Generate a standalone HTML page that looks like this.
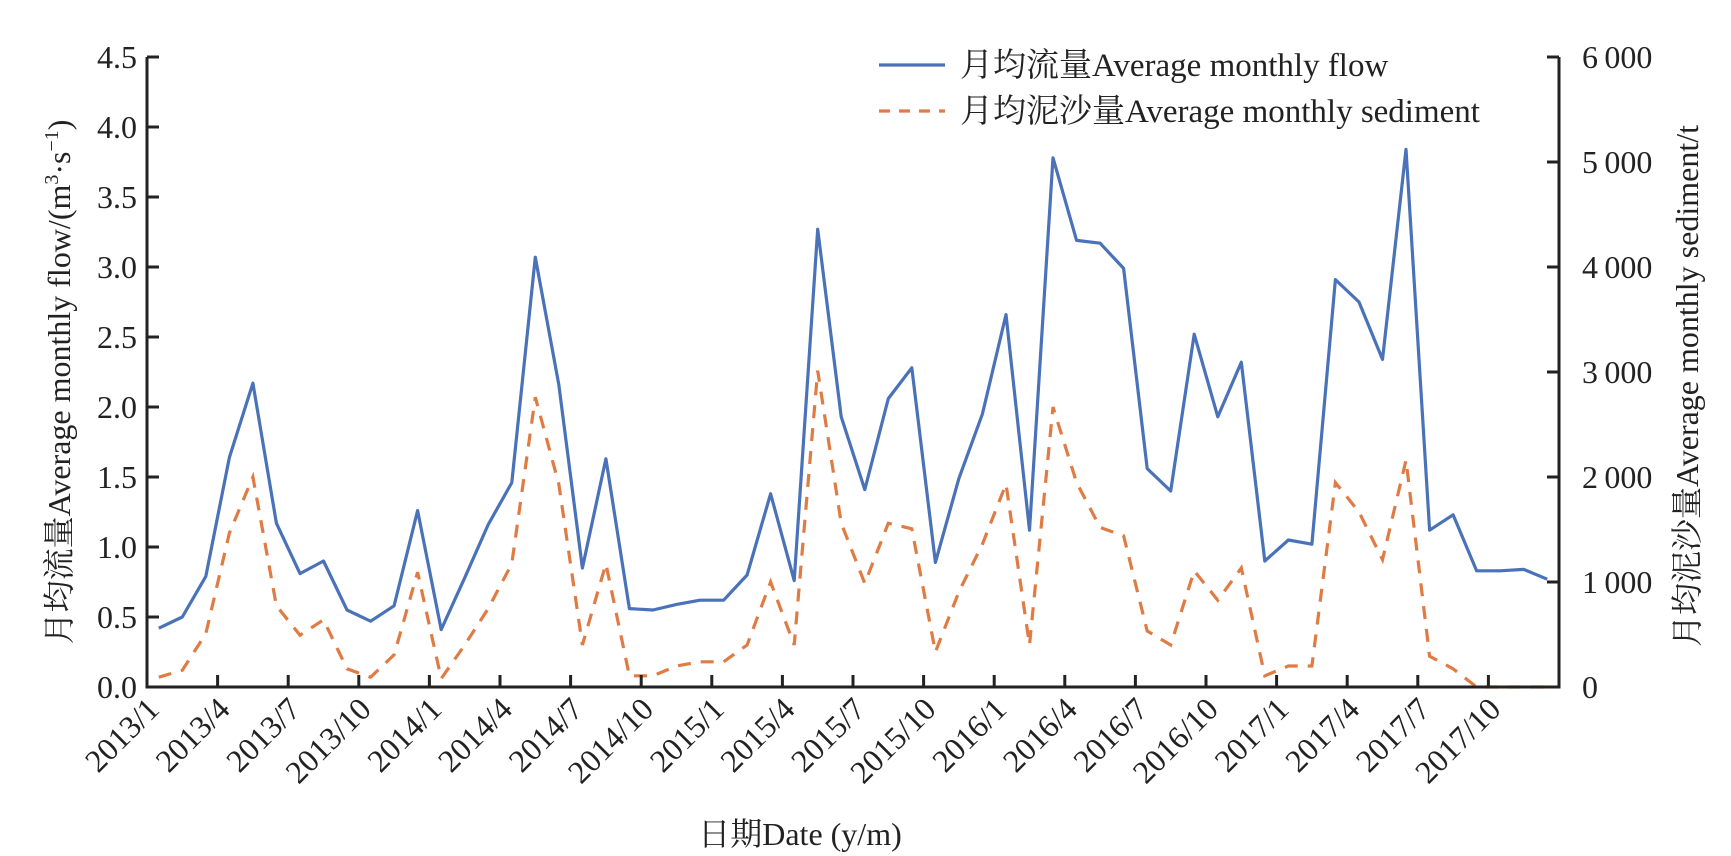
<!DOCTYPE html>
<html><head><meta charset="utf-8"><style>
html,body{margin:0;padding:0;background:#fff;}
svg{display:block;font-family:"Liberation Serif","Noto Serif CJK SC",serif;}
</style></head><body>
<svg id="c" width="1731" height="856" viewBox="0 0 1731 856" xmlns="http://www.w3.org/2000/svg"></svg>
<script>
const svg=document.getElementById('c');
const L=147,R=1559,B=687,T=57;
const ppu=140;
const step=(R-L)/60;
const flow=[0.42,0.50,0.79,1.64,2.17,1.17,0.81,0.90,0.55,0.47,0.58,1.26,
0.41,0.78,1.16,1.46,3.07,2.16,0.85,1.63,0.56,0.55,0.59,0.62,
0.62,0.80,1.38,0.76,3.27,1.93,1.41,2.06,2.28,0.89,1.49,1.95,
2.66,1.12,3.78,3.19,3.17,2.99,1.56,1.40,2.52,1.93,2.32,0.90,
1.05,1.02,2.91,2.75,2.34,3.84,1.12,1.23,0.83,0.83,0.84,0.77];
const sed=[0.07,0.12,0.38,1.10,1.50,0.58,0.37,0.48,0.13,0.07,0.23,0.82,
0.06,0.30,0.56,0.88,2.07,1.45,0.30,0.88,0.08,0.08,0.15,0.18,
0.18,0.30,0.75,0.30,2.26,1.17,0.74,1.17,1.13,0.25,0.68,1.02,
1.45,0.30,2.00,1.46,1.14,1.08,0.40,0.30,0.83,0.62,0.85,0.08,
0.15,0.15,1.46,1.25,0.91,1.62,0.22,0.13,0.0,0.0,0.0,0.0];
let h='';
const px=i=>L+step*(i+0.5), py=v=>B-v*ppu;
const pts=a=>a.map((v,i)=>px(i).toFixed(1)+','+py(v).toFixed(1)).join(' ');
h+=`<polyline points="${pts(sed)}" fill="none" stroke="#e07b44" stroke-width="3.2" stroke-dasharray="13,10"/>`;
h+=`<polyline points="${pts(flow)}" fill="none" stroke="#4a72b8" stroke-width="3.2" stroke-linejoin="round"/>`;
h+=`<path d="M${L},${T} V${B} H${R} V${T}" fill="none" stroke="#222" stroke-width="3"/>`;
for(let k=0;k<=9;k++){const y=B-k*0.5*ppu;
 h+=`<line x1="${L}" x2="${L+12}" y1="${y}" y2="${y}" stroke="#222" stroke-width="3"/>`;
 h+=`<text x="${L-10}" y="${y+11}" font-size="32" text-anchor="end" fill="#222">${(k*0.5).toFixed(1)}</text>`;}
for(let k=0;k<=6;k++){const y=B-k*105;
 h+=`<line x1="${R-12}" x2="${R}" y1="${y}" y2="${y}" stroke="#222" stroke-width="3"/>`;
 h+=`<text x="${R+23}" y="${y+11}" font-size="32" fill="#222">${k==0?'0':k+'&#8201;000'}</text>`;}
const yrs=[2013,2014,2015,2016,2017];
for(let m=0;m<60;m+=3){const x=L+step*m;
 if(m>0)h+=`<line x1="${x}" x2="${x}" y1="${B}" y2="${B-12}" stroke="#222" stroke-width="3"/>`;
 const lab=yrs[Math.floor(m/12)]+'/'+(m%12+1);
 h+=`<text transform="translate(${x+14},${B+24}) rotate(-45)" font-size="32" text-anchor="end" fill="#222">${lab}</text>`;}
h+=`<line x1="879" x2="945" y1="65" y2="65" stroke="#4a72b8" stroke-width="3.2"/>`;
h+=`<text x="960" y="76" font-size="33" fill="#222">月均流量Average monthly flow</text>`;
h+=`<line x1="879" x2="945" y1="111" y2="111" stroke="#e07b44" stroke-width="3.2" stroke-dasharray="11,9"/>`;
h+=`<text x="960" y="122" font-size="33" fill="#222">月均泥沙量Average monthly sediment</text>`;
h+=`<text x="800" y="845" font-size="32" text-anchor="middle" fill="#222">日期Date (y/m)</text>`;
h+=`<text transform="translate(70,382) rotate(-90)" font-size="32" text-anchor="middle" fill="#222">月均流量Average monthly flow/(m<tspan font-size="20" dy="-12">3</tspan><tspan dy="12">·s</tspan><tspan font-size="20" dy="-12">−1</tspan><tspan dy="12">)</tspan></text>`;
h+=`<text transform="translate(1698,386) rotate(-90)" font-size="32" text-anchor="middle" fill="#222">月均泥沙量Average monthly sediment/t</text>`;
svg.innerHTML=h;
</script>
</body></html>
